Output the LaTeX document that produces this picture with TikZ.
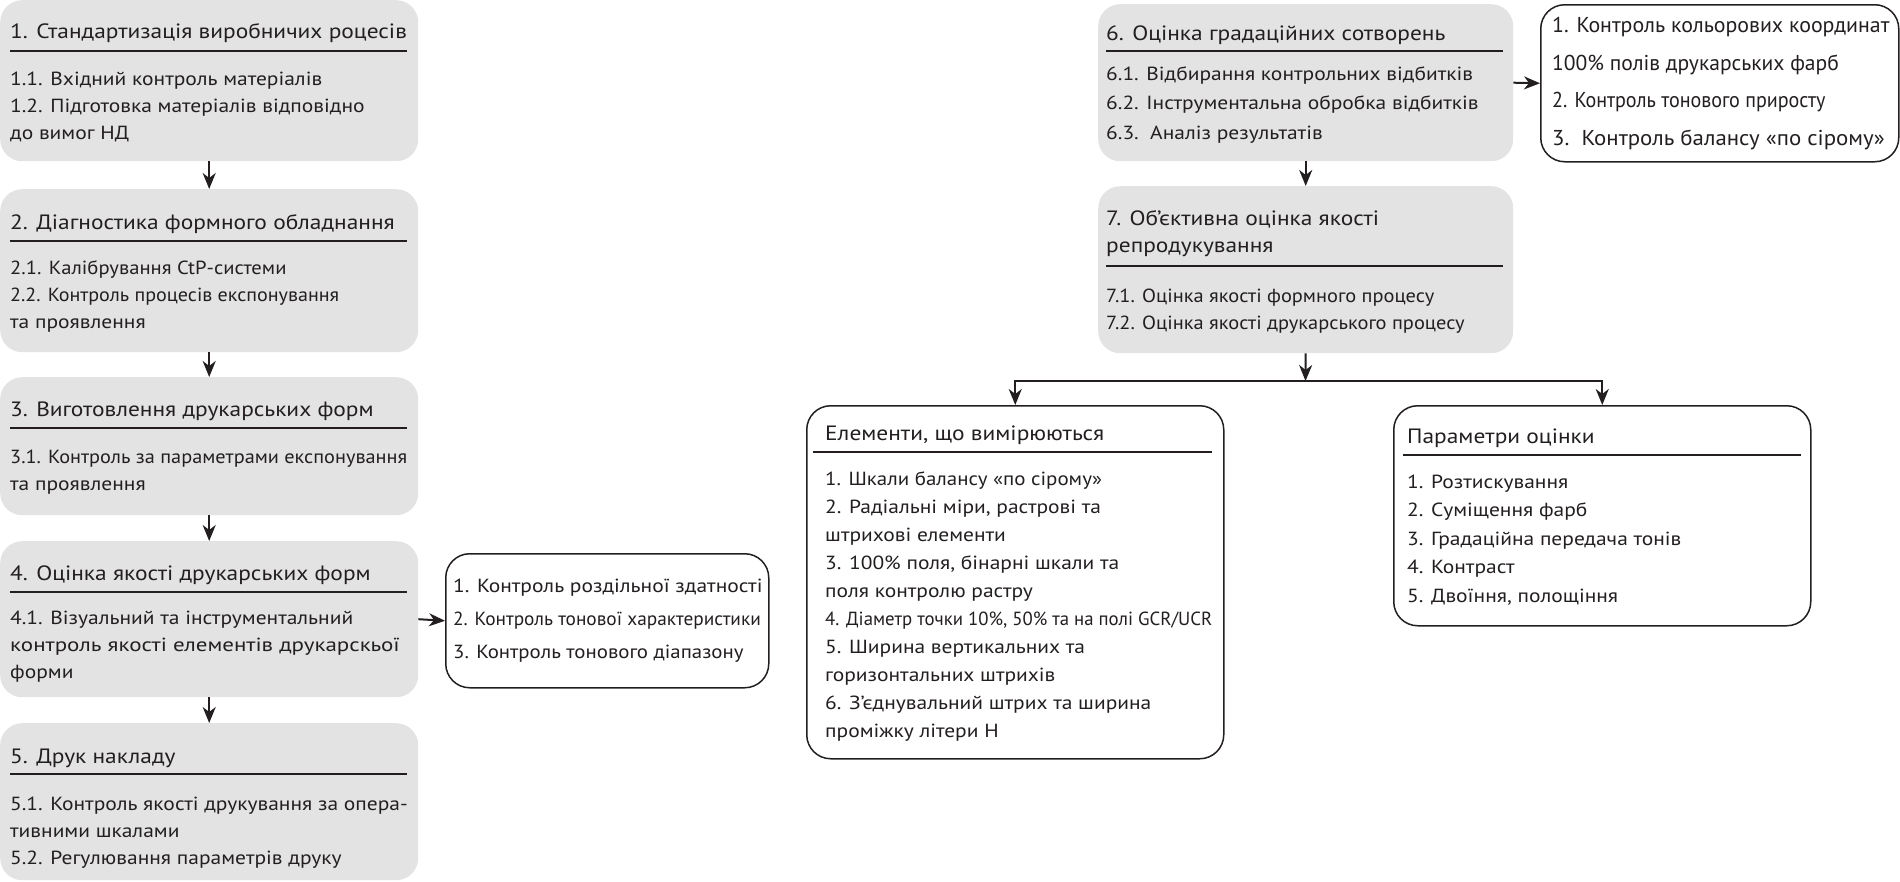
\documentclass[tikz,border=0pt]{standalone}
\usepackage{graphicx}
\usepackage{fontspec}
\setmainfont{PT Sans}[FakeStretch=1.13]
\usetikzlibrary{arrows.meta}
\definecolor{boxgray}{RGB}{227,227,227}
\definecolor{ink}{RGB}{35,31,32}
\newcommand\lns[1]{\begin{tabular}[t]{@{}l@{}}#1\end{tabular}}
\newcommand\hs[2]{\scalebox{#1}[1]{#2}}
\begin{document}
\begin{tikzpicture}[x=1pt,y=-1pt,
  graybox/.style={fill=boxgray, draw=none, rounded corners=22pt, anchor=north west, inner sep=0pt},
  whitebox/.style={fill=white, draw=ink, line width=1.5pt, rounded corners=24pt, anchor=north west, inner sep=0pt},
  ttl/.style={anchor=base west, inner sep=0pt, text=ink, font=\fontsize{20.7}{27}\selectfont},
  txt/.style={anchor=base west, inner sep=0pt, text=ink, font=\fontsize{19}{27}\selectfont},
  bigtxt/.style={anchor=base west, inner sep=0pt, text=ink, font=\fontsize{21.5}{27}\selectfont},
  rulel/.style={draw=ink, line width=1.4pt},
  arr/.style={draw=ink, line width=2pt, -{Stealth[length=16pt,width=13pt,inset=5pt]}},
]
\useasboundingbox (0,0) rectangle (1900,881);
% ---------- left column ----------
\node[graybox, minimum width=418pt, minimum height=161pt] (b1) at (0,0) {};
\node[ttl] (t1) at (10,38) {1. Стандартизація виробничих роцесів};
\draw[rulel] (10,51) -- (407,51);
\node[txt] (s1) at (10,85) {\lns{1.1. Вхідний контроль матеріалів\\1.2. Підготовка матеріалів відповідно\\до вимог НД}};

\node[graybox, minimum width=418pt, minimum height=163pt] (b2) at (0,189) {};
\node[ttl] (t2) at (10,229) {2. Діагностика формного обладнання};
\draw[rulel] (10,241) -- (407,241);
\node[txt] (s2) at (10,274) {\lns{\hs{0.96}{2.1. Калібрування CtP-системи}\\\hs{0.935}{2.2. Контроль процесів експонування}\\та проявлення}};

\node[graybox, minimum width=418pt, minimum height=138pt] (b3) at (0,377) {};
\node[ttl] (t3) at (10,416) {3. Виготовлення друкарських форм};
\draw[rulel] (10,428) -- (407,428);
\node[txt] (s3) at (10,463) {\lns{\hs{0.945}{3.1. Контроль за параметрами експонування}\\та проявлення}};

\node[graybox, minimum width=418pt, minimum height=156pt] (b4) at (0,541) {};
\node[ttl] (t4) at (10,580) {4. Оцінка якості друкарських форм};
\draw[rulel] (10,592) -- (407,592);
\node[txt] (s4) at (10,624) {\lns{4.1. Візуальний та інструментальний\\\hs{1.07}{контроль якості елементів друкарскьої}\\форми}};

\node[graybox, minimum width=418pt, minimum height=157pt] (b5) at (0,723) {};
\node[ttl] (t5) at (10,763) {5. Друк накладу};
\draw[rulel] (10,774) -- (407,774);
\node[txt] (s5) at (10,810) {\lns{5.1. Контроль якості друкування за опера-\\тивними шкалами\\5.2. Регулювання параметрів друку}};

\node[whitebox, minimum width=323pt, minimum height=134pt] (a) at (445,553) {};
\node[txt] (a1) at (453,592) {1. Контроль роздільної здатності};
\node[txt] (a2) at (453,625) {\hs{0.9}{2. Контроль тонової характеристики}};
\node[txt] (a3) at (453,658) {\hs{0.97}{3. Контроль тонового діапазону}};

\draw[arr] (b1.south) -- (b2.north);
\draw[arr] (b2.south) -- (b3.north);
\draw[arr] (b3.south) -- (b4.north);
\draw[arr] (b4.south) -- (b5.north);
\draw[arr] (b4.east) -- (a.west);

% ---------- right part ----------
\node[graybox, minimum width=415pt, minimum height=157pt] (b6) at (1098,4) {};
\node[ttl] (t6) at (1106,40) {6. Оцінка градаційних сотворень};
\draw[rulel] (1106,51) -- (1503,51);
\node[txt] (s6) at (1106,80) {\lns{6.1. Відбирання контрольних відбитків\\[2.5pt]6.2. Інструментальна обробка відбитків\\[2.5pt]6.3.\ \ Аналіз результатів}};

\node[whitebox, minimum width=358pt, minimum height=157pt] (c) at (1540,4) {};
\node[bigtxt] (c1) at (1552,32) {\hs{0.9}{1. Контроль кольорових координат}};
\node[bigtxt] (c2) at (1552,70) {\hs{0.887}{100\% полів друкарських фарб}};
\node[bigtxt] (c3) at (1552,107) {\hs{0.826}{2. Контроль тонового приросту}};
\node[bigtxt] (c4) at (1552,145) {\hs{0.94}{3.\ \ Контроль балансу «по сірому»}};

\node[graybox, minimum width=415pt, minimum height=167pt] (b7) at (1098,186) {};
\node[ttl] (t7) at (1106,225) {\lns{7. Об'єктивна оцінка якості\\репродукування}};
\draw[rulel] (1106,266) -- (1503,266);
\node[txt] (s7) at (1106,302) {\hs{0.95}{\lns{7.1. Оцінка якості формного процесу\\7.2. Оцінка якості друкарського процесу}}};

\node[whitebox, minimum width=417pt, minimum height=353pt] (e) at (806,405) {};
\node[ttl] (te) at (825,440) {Елементи, що вимірюються};
\draw[rulel] (813,452) -- (1212,452);
\node[txt] (se) at (825,485) {\lns{\hs{0.975}{1. Шкали балансу «по сірому»}\\[1pt]2. Радіальні міри, растрові та\\[1pt]штрихові елементи\\[1pt]3. 100\% поля, бінарні шкали та\\[1pt]поля контролю растру\\[1pt]\hs{0.875}{4. Діаметр точки 10\%, 50\% та на полі GCR/UCR}\\[1pt]5. Ширина вертикальних та\\[1pt]горизонтальних штрихів\\[1pt]6. З'єднувальний штрих та ширина\\[1pt]проміжку літери Н}};

\node[whitebox, minimum width=417pt, minimum height=220pt] (p) at (1393,405) {};
\node[ttl] (tp) at (1407,443) {Параметри оцінки};
\draw[rulel] (1403,455) -- (1801,455);
\node[txt] (sp) at (1407,488) {\lns{1. Розтискування\\[1.5pt]2. Суміщення фарб\\[1.5pt]3. Градаційна передача тонів\\[1.5pt]4. Контраст\\[1.5pt]5. Двоїння, полощіння}};

\coordinate (jn) at (1305.5,381);
\draw[arr] (b6.east) -- (c.west);
\draw[arr] (b6.south) -- (b7.north);
\draw[arr] (b7.south) -- (jn);
\draw[arr] (jn) -| (e.north);
\draw[arr] (jn) -| (p.north);
\end{tikzpicture}
\end{document}
